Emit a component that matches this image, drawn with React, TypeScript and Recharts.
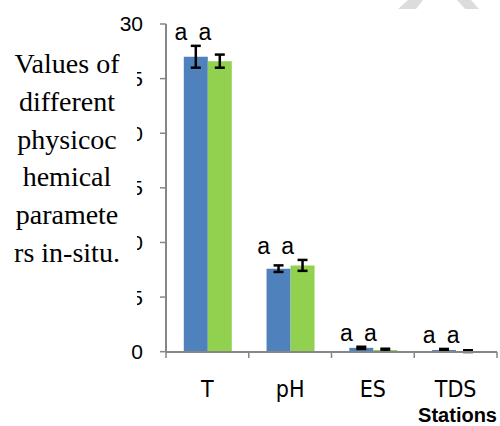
import React from 'react';
import { BarChart, Bar, XAxis, YAxis, ErrorBar, LabelList } from 'recharts';

const stations = ['T', 'pH', 'ES', 'TDS'];
const series1 = [27.0, 7.6, 0.35, 0.15];
const series1Err = [1.0, 0.3, 0.1, 0.1];
const series2 = [26.6, 7.9, 0.15, 0.05];
const series2Err = [0.6, 0.5, 0.12, 0.08];
const letters1 = ['a', 'a', 'a', 'a'];
const letters2 = ['a', 'a', 'a', 'a'];
const yTicks = [0, 5, 10, 15, 20, 25, 30];
const yTitleLines = ['Values of', 'different', 'physicoc', 'hemical', 'paramete', 'rs in-situ.'];

const data = stations.map((name, i) => ({
  name,
  s1: series1[i],
  e1: series1Err[i],
  s2: series2[i],
  e2: series2Err[i],
  top: Math.max(series1[i] + series1Err[i], series2[i] + series2Err[i]),
}));

const AXIS = '#868686';
const SANS = '"Liberation Sans", Arial, sans-serif';
const NARROW = '"Liberation Sans Narrow", "DejaVu Sans Condensed", "Liberation Sans", sans-serif';

// letters sit above the highest whisker of each station
const letterLabel = (letters: string[]) => (props: any) => {
  const { x, y, width, height, value, index } = props;
  if (!value) return null;
  const unit = height / value;
  const ly = y + height - data[index].top * unit - 6;
  return (
    <text x={x + width / 2 - 15} y={ly} textAnchor="middle" fontFamily={SANS} fontSize={23} fill="#000">
      {letters[index]}
    </text>
  );
};

const StationTick = (props: any) => {
  const { x, y, payload, index } = props;
  const half = payload && payload.offset ? payload.offset : 41.4;
  const axisY = y - 8;
  return (
    <g>
      <line x1={x - half} x2={x - half} y1={axisY} y2={axisY + 6} stroke={AXIS} strokeWidth={1.5} />
      {index === stations.length - 1 && (
        <line x1={x + half} x2={x + half} y1={axisY} y2={axisY + 6} stroke={AXIS} strokeWidth={1.5} />
      )}
      <text x={x} y={axisY + 45} textAnchor="middle" fontFamily={NARROW} fontSize={23} fill="#000">
        {payload.value}
      </text>
    </g>
  );
};

const XTitle = (props: any) => {
  const vb = props.viewBox || { x: 166, y: 352, width: 331 };
  return (
    <text x={vb.x + vb.width} y={vb.y + 70} textAnchor="end" fontFamily={SANS} fontWeight="bold" fontSize={20} fill="#000">
      Stations
    </text>
  );
};

// the y title is a white text box laid over the value ticks
const YTitleBox = () => (
  <svg width={500} height={426} style={{ position: 'absolute', left: 0, top: 0, pointerEvents: 'none' }}>
    <rect x={0} y={32} width={137} height={308} fill="#fff" />
    <text fontFamily='"Liberation Serif", "Times New Roman", serif' fontSize={28} textAnchor="middle" fill="#000">
      {yTitleLines.map((line, i) => (
        <tspan key={i} x={67} y={73 + i * 37.8}>
          {line}
        </tspan>
      ))}
    </text>
    <polygon points="408,0 423,0 416,9 398,9" fill="#dcdcdc" />
    <polygon points="457,0 471,0 479,9 465,9" fill="#dcdcdc" />
  </svg>
);

export default function App() {
  return (
    <div style={{ position: 'absolute', left: 0, top: 0, width: 500, height: 426, background: '#fff' }}>
      <BarChart
        width={500}
        height={426}
        data={data}
        margin={{ top: 24, right: 3, bottom: 0, left: 0 }}
        barCategoryGap="21.5%"
        barGap={0}
      >
        <XAxis
          dataKey="name"
          height={74}
          axisLine={{ stroke: AXIS, strokeWidth: 2 }}
          tickLine={false}
          tickSize={6}
          tickMargin={2}
          tick={<StationTick />}
          interval={0}
          label={<XTitle />}
        />
        <YAxis
          width={166}
          domain={[0, 30]}
          ticks={yTicks}
          interval={0}
          axisLine={{ stroke: AXIS, strokeWidth: 2 }}
          tickLine={{ stroke: AXIS, strokeWidth: 1.5 }}
          tickSize={6}
          tickMargin={17}
          tick={{ fontFamily: SANS, fontSize: 21, fill: '#000' }}
        />
        <Bar dataKey="s1" fill="#4F81BD" isAnimationActive={false}>
          <ErrorBar dataKey="e1" width={5} strokeWidth={2.5} stroke="#000" />
          <LabelList dataKey="s1" content={letterLabel(letters1)} />
        </Bar>
        <Bar dataKey="s2" fill="#92D050" isAnimationActive={false}>
          <ErrorBar dataKey="e2" width={5} strokeWidth={2.5} stroke="#000" />
          <LabelList dataKey="s2" content={letterLabel(letters2)} />
        </Bar>
      </BarChart>
      <YTitleBox />
    </div>
  );
}
